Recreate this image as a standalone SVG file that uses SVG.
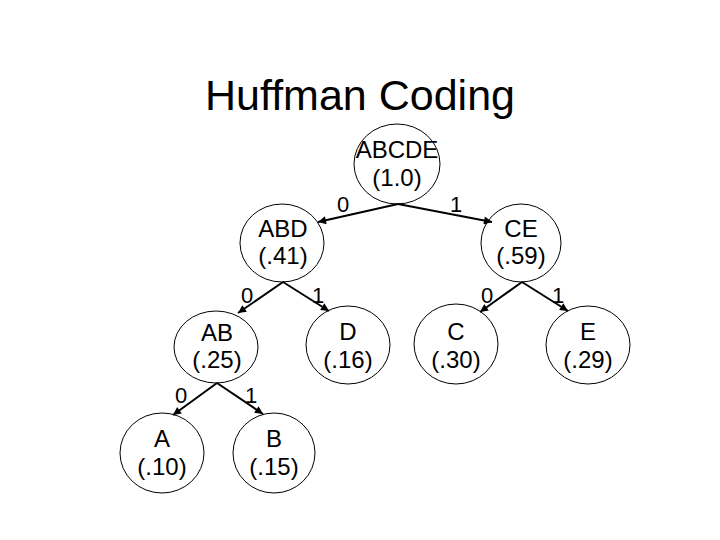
<svg xmlns="http://www.w3.org/2000/svg" width="720" height="540" viewBox="0 0 720 540">
<defs>
<marker id="arr" viewBox="0 0 10 10" refX="10" refY="5" markerWidth="10" markerHeight="8" markerUnits="userSpaceOnUse" orient="auto">
<path d="M0,0 L10,5 L0,10 z" fill="#000"/>
</marker>
</defs>
<style>
.n ellipse{fill:#fff;stroke:#000;stroke-width:1}
.t{font-family:"Liberation Sans",Arial,sans-serif;font-size:24px;fill:#000;text-anchor:middle}
.l{font-family:"Liberation Sans",Arial,sans-serif;font-size:22px;fill:#000;text-anchor:middle}
.e line{stroke:#000;stroke-width:2;marker-end:url(#arr)}
.title{font-family:"Liberation Sans",Arial,sans-serif;font-size:43px;fill:#000;text-anchor:middle}
</style>
<rect width="720" height="540" fill="#fff"/>
<text class="title" x="360" y="110">Huffman Coding</text>
<g id="n-abcde" class="n"><ellipse cx="397" cy="164" rx="43" ry="40"/><text class="t" x="397" y="158">ABCDE</text><text class="t" x="397" y="186">(1.0)</text></g>
<g id="n-abd" class="n"><ellipse cx="282" cy="243" rx="42" ry="39"/><text class="t" x="283" y="237">ABD</text><text class="t" x="283" y="264">(.41)</text></g>
<g id="n-ce" class="n"><ellipse cx="521" cy="243" rx="40" ry="39"/><text class="t" x="521" y="237">CE</text><text class="t" x="521" y="264">(.59)</text></g>
<g id="n-ab" class="n"><ellipse cx="216" cy="347" rx="42" ry="36"/><text class="t" x="217" y="341">AB</text><text class="t" x="217" y="368">(.25)</text></g>
<g id="n-d" class="n"><ellipse cx="348" cy="345" rx="42" ry="39"/><text class="t" x="348" y="340">D</text><text class="t" x="348" y="368">(.16)</text></g>
<g id="n-c" class="n"><ellipse cx="456" cy="344" rx="42" ry="40"/><text class="t" x="456" y="340">C</text><text class="t" x="456" y="368">(.30)</text></g>
<g id="n-e" class="n"><ellipse cx="588" cy="345" rx="42" ry="39"/><text class="t" x="588" y="340">E</text><text class="t" x="588" y="368">(.29)</text></g>
<g id="n-a" class="n"><ellipse cx="162" cy="453" rx="42" ry="40"/><text class="t" x="162" y="447">A</text><text class="t" x="162" y="475">(.10)</text></g>
<g id="n-b" class="n"><ellipse cx="274" cy="453" rx="41" ry="40"/><text class="t" x="274" y="447">B</text><text class="t" x="274" y="475">(.15)</text></g>
<g id="edges" class="e">
<line x1="398" y1="204" x2="318" y2="222"/>
<line x1="398" y1="204" x2="492" y2="222"/>
<line x1="283" y1="282" x2="238" y2="313"/>
<line x1="283" y1="282" x2="329" y2="311"/>
<line x1="522" y1="282" x2="480" y2="312"/>
<line x1="522" y1="282" x2="568" y2="311"/>
<line x1="217" y1="383" x2="173" y2="415"/>
<line x1="217" y1="383" x2="263" y2="414"/>
</g>
<g id="labels">
<text class="l" x="343" y="212">0</text>
<text class="l" x="456" y="212">1</text>
<text class="l" x="247" y="303">0</text>
<text class="l" x="318" y="303">1</text>
<text class="l" x="487" y="303">0</text>
<text class="l" x="558" y="303">1</text>
<text class="l" x="181" y="403">0</text>
<text class="l" x="251" y="403">1</text>
</g>
</svg>
